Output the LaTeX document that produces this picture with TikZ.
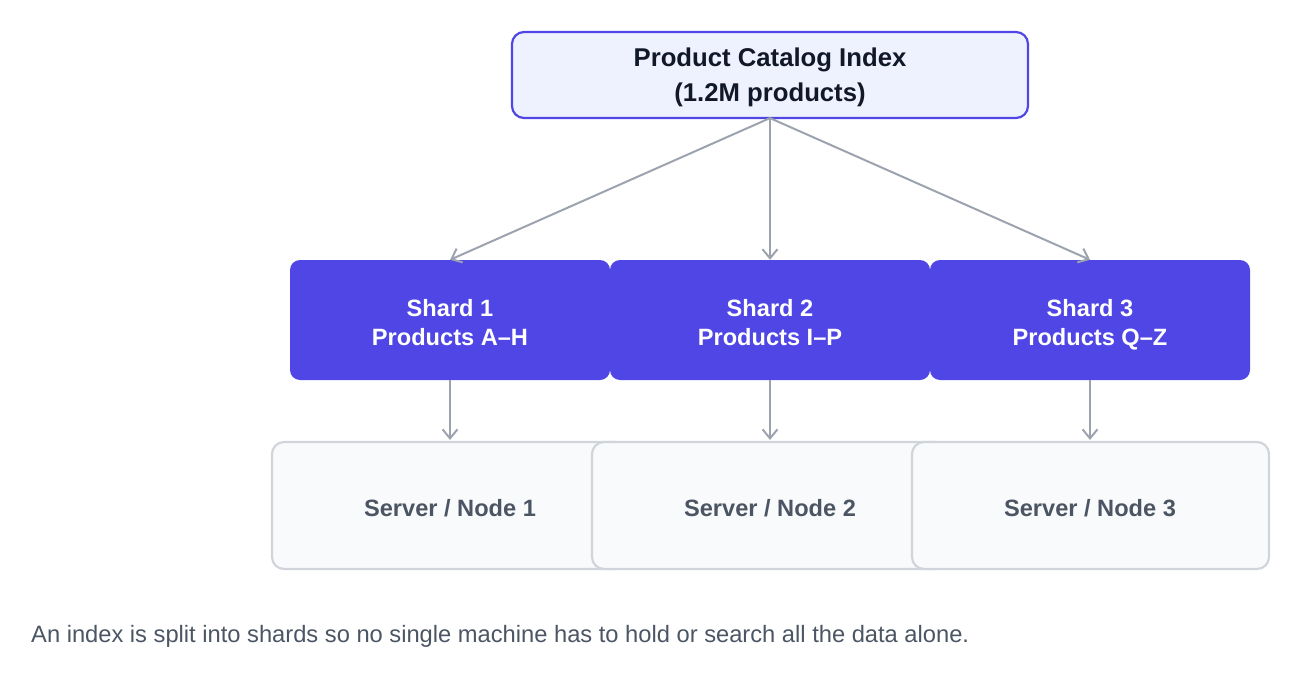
\documentclass[tikz,border=0pt]{standalone}
\usepackage{fontspec}
\setmainfont{Liberation Sans}
\usetikzlibrary{arrows.meta}
\definecolor{indigo}{HTML}{4F46E5}
\definecolor{indigolight}{HTML}{EEF2FF}
\definecolor{darktext}{HTML}{111827}
\definecolor{graytext}{HTML}{4B5563}
\definecolor{arrowgray}{HTML}{9CA3AF}
\definecolor{serverfill}{HTML}{F9FAFB}
\definecolor{serverborder}{HTML}{D1D5DB}
\tikzset{
  rootbox/.style={draw=indigo, line width=2.2pt, fill=indigolight, rounded corners=12pt,
    minimum width=516pt, minimum height=86pt, inner sep=0pt},
  shardbox/.style={fill=indigo, rounded corners=10pt, minimum width=320pt,
    minimum height=120pt, inner sep=0pt},
  serverbox/.style={draw=serverborder, line width=2.2pt, fill=serverfill, rounded corners=12pt,
    minimum width=357pt, minimum height=127pt, inner sep=0pt},
  titletxt/.style={anchor=base, inner sep=0pt, text=darktext, font=\fontsize{25.7}{30}\selectfont\bfseries},
  shardtxt/.style={anchor=base, inner sep=0pt, text=white, font=\fontsize{23.6}{28}\selectfont\bfseries},
  servertxt/.style={anchor=base, inner sep=0pt, text=graytext, font=\fontsize{23.6}{28}\selectfont\bfseries},
  captiontxt/.style={anchor=base west, inner sep=0pt, text=graytext, font=\fontsize{23.7}{28}\selectfont},
  conn/.style={draw=arrowgray, line width=2pt, -{Straight Barb[length=9pt,width=15pt,line width=2pt]}},
  vconn/.style={conn, line width=2.6pt}
}
\begin{document}
\begin{tikzpicture}[x=1pt,y=-1pt]
\useasboundingbox (0,0) rectangle (1301,677);
% root
\node[rootbox] (root) at (770,75) {};
\node[titletxt] (roott1) at (770,66.7) {Product Catalog Index};
\node[titletxt] (roott2) at (770,101.7) {(1.2M products)};
% shards
\node[shardbox] (s1) at (450,320) {};
\node[shardbox] (s2) at (770,320) {};
\node[shardbox] (s3) at (1090,320) {};
\node[shardtxt] (s1a) at (450,316.5) {Shard 1};
\node[shardtxt] (s1b) at (450,345.3) {Products A–H};
\node[shardtxt] (s2a) at (770,316.5) {Shard 2};
\node[shardtxt] (s2b) at (770,345.3) {Products I–P};
\node[shardtxt] (s3a) at (1090,316.5) {Shard 3};
\node[shardtxt] (s3b) at (1090,345.3) {Products Q–Z};
% servers
\node[serverbox] (n1) at (450.5,505.5) {};
\node[serverbox] (n2) at (770.5,505.5) {};
\node[serverbox] (n3) at (1090.5,505.5) {};
\node[servertxt] (n1t) at (450,516) {Server / Node 1};
\node[servertxt] (n2t) at (770,516) {Server / Node 2};
\node[servertxt] (n3t) at (1090,516) {Server / Node 3};
% connectors
\coordinate (rs) at ([yshift=1pt]root.south);
\draw[conn] (rs) -- (s1.north);
\draw[vconn] (rs) -- (s2.north);
\draw[conn] (rs) -- (s3.north);
\draw[vconn] (s1.south) -- ([xshift=-0.5pt,yshift=1pt]n1.north);
\draw[vconn] (s2.south) -- ([xshift=-0.5pt,yshift=1pt]n2.north);
\draw[vconn] (s3.south) -- ([xshift=-0.5pt,yshift=1pt]n3.north);
% caption
\node[captiontxt] (cap) at (31,642) {An index is split into shards so no single machine has to hold or search all the data alone.};
\end{tikzpicture}
\end{document}
